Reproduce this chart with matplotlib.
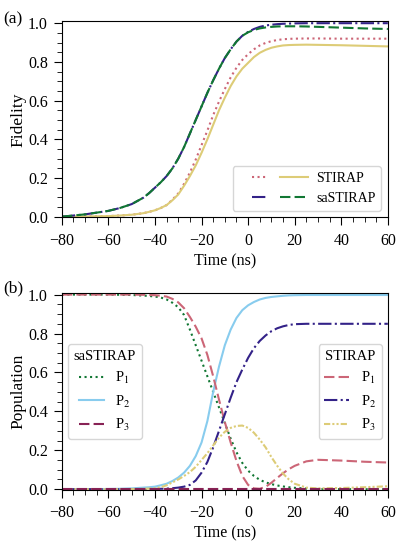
"""
Fidelity and level populations for STIRAP vs saSTIRAP.
"""
import numpy as np
import matplotlib.pyplot as plt
from matplotlib.legend_handler import HandlerLine2D
from matplotlib.ticker import AutoMinorLocator

plt.rcParams["font.family"] = ["Liberation Serif", "DejaVu Serif"]
plt.rcParams["mathtext.fontset"] = "stix"
plt.rcParams["font.size"] = 11

# time grid (ns)
t = [-80, -70, -60, -55, -50, -45, -42.5, -40, -37.5, -35, -32.5, -30, -27.5, -25,
     -22.5, -20, -17.5, -15, -12.5, -10, -7.5, -5, -2.5, 0, 2.5, 5, 7.5, 10, 12.5,
     15, 17.5, 20, 25, 30, 40, 50, 60]

# panel (a): fidelity
fid_stirap_dot = [0.0, 0.001, 0.003, 0.006, 0.01, 0.018, 0.025, 0.033, 0.045, 0.06,
                  0.088, 0.12, 0.17, 0.228, 0.295, 0.37, 0.445, 0.525, 0.595, 0.66,
                  0.72, 0.77, 0.81, 0.84, 0.865, 0.885, 0.898, 0.907, 0.913, 0.917,
                  0.919, 0.92, 0.921, 0.921, 0.92, 0.92, 0.92]
fid_stirap = [0.0, 0.001, 0.003, 0.006, 0.01, 0.018, 0.025, 0.033, 0.045, 0.06,
              0.085, 0.115, 0.16, 0.21, 0.265, 0.33, 0.4, 0.475, 0.55, 0.615,
              0.675, 0.725, 0.765, 0.795, 0.825, 0.847, 0.862, 0.873, 0.88, 0.885,
              0.887, 0.888, 0.889, 0.888, 0.886, 0.883, 0.88]
fid_sa_dashdot = [0.0, 0.012, 0.03, 0.045, 0.065, 0.098, 0.122, 0.15, 0.178, 0.21,
                  0.25, 0.3, 0.36, 0.43, 0.5, 0.57, 0.64, 0.705, 0.765, 0.82,
                  0.865, 0.905, 0.935, 0.955, 0.97, 0.981, 0.988, 0.992, 0.995, 0.997,
                  0.998, 0.999, 1.0, 1.0, 1.0, 1.0, 1.0]
fid_sa_dash = [0.0, 0.012, 0.03, 0.045, 0.065, 0.098, 0.122, 0.15, 0.178, 0.21,
               0.25, 0.3, 0.36, 0.43, 0.5, 0.57, 0.64, 0.705, 0.765, 0.82,
               0.865, 0.905, 0.935, 0.953, 0.965, 0.973, 0.978, 0.981, 0.983, 0.984,
               0.984, 0.984, 0.983, 0.981, 0.977, 0.973, 0.97]

# panel (b): populations
sa_p1 = [1.0, 1.0, 1.0, 0.999, 0.998, 0.995, 0.993, 0.99, 0.985, 0.975,
         0.958, 0.935, 0.895, 0.82, 0.74, 0.66, 0.58, 0.5, 0.42, 0.34,
         0.26, 0.19, 0.135, 0.095, 0.068, 0.048, 0.035, 0.026, 0.019, 0.014,
         0.01, 0.007, 0.003, 0.001, 0.0, 0.0, 0.0]
sa_p2 = [0.0, 0.0, 0.001, 0.002, 0.004, 0.008, 0.01, 0.013, 0.02, 0.028,
         0.042, 0.06, 0.085, 0.12, 0.17, 0.24, 0.35, 0.5, 0.63, 0.74,
         0.82, 0.88, 0.92, 0.945, 0.962, 0.975, 0.983, 0.988, 0.991, 0.994,
         0.996, 0.997, 0.998, 0.998, 0.998, 0.998, 0.998]
sa_p3 = [0.0] * 37
st_p1 = [1.0, 1.0, 1.0, 1.0, 1.0, 0.999, 0.998, 0.997, 0.994, 0.99,
         0.978, 0.96, 0.93, 0.885, 0.835, 0.775, 0.69, 0.58, 0.46, 0.345,
         0.24, 0.145, 0.068, 0.022, 0.004, 0.002, 0.012, 0.033, 0.058, 0.082,
         0.103, 0.12, 0.143, 0.151, 0.147, 0.141, 0.137]
st_p2 = [0.0, 0.0, 0.0, 0.0, 0.0, 0.0, 0.0, 0.001, 0.002, 0.003,
         0.005, 0.008, 0.013, 0.022, 0.045, 0.085, 0.14, 0.215, 0.3, 0.385,
         0.47, 0.55, 0.615, 0.675, 0.725, 0.762, 0.79, 0.812, 0.827, 0.837,
         0.844, 0.848, 0.85, 0.85, 0.85, 0.85, 0.85]
st_p3 = [0.0, 0.0, 0.0, 0.0, 0.0, 0.002, 0.003, 0.005, 0.01, 0.02,
         0.035, 0.05, 0.068, 0.088, 0.115, 0.15, 0.185, 0.225, 0.265, 0.295,
         0.315, 0.325, 0.327, 0.315, 0.29, 0.255, 0.215, 0.165, 0.12, 0.08,
         0.05, 0.028, 0.008, 0.004, 0.006, 0.01, 0.015]

rose, indigo, sand, green = "#CC6677", "#332288", "#DDCC77", "#117733"
cyan, wine = "#88CCEE", "#882255"


class ShortLine(HandlerLine2D):
    # draw the handle only over the right half of its slot
    def create_artists(self, legend, orig_handle, xdescent, ydescent, width,
                       height, fontsize, trans):
        return super().create_artists(legend, orig_handle, xdescent - 0.5 * width,
                                      ydescent, 0.5 * width, height, fontsize, trans)


fig = plt.figure(figsize=(3.99, 5.45), dpi=100)
ax1 = fig.add_axes([0.155, 0.601, 0.817, 0.360])
ax2 = fig.add_axes([0.155, 0.101, 0.817, 0.362])

lw = 1.5
h1, = ax1.plot(t, fid_stirap_dot, color=rose, ls=":", lw=lw)
h3, = ax1.plot(t, fid_stirap, color=sand, ls="-", lw=lw)
h2, = ax1.plot(t, fid_sa_dashdot, color=indigo, ls="-.", lw=lw)
h4, = ax1.plot(t, fid_sa_dash, color=green, ls=(0, (5, 2)), lw=lw)
ax1.legend([h1, h2, h3, h4], ["", "", "STIRAP", "saSTIRAP"], ncol=2,
           loc="lower right", columnspacing=0.4, handletextpad=0.6,
           fontsize=10, handler_map={h1: ShortLine(), h2: ShortLine()})
ax1.set_ylabel("Fidelity", fontsize=12.5, labelpad=1.5)

s1, = ax2.plot(t, sa_p1, color=green, ls=":", lw=lw)
s2, = ax2.plot(t, sa_p2, color=cyan, ls="-", lw=lw)
r1, = ax2.plot(t, st_p1, color=rose, ls=(0, (5, 2)), lw=lw)
r2, = ax2.plot(t, st_p2, color=indigo, ls="-.", lw=lw)
r3, = ax2.plot(t, st_p3, color=sand, ls=(0, (3, 1, 1, 1, 1, 1)), lw=lw)
s3, = ax2.plot(t, sa_p3, color=wine, ls=(0, (5, 2)), lw=lw)
leg_l = ax2.legend([s1, s2, s3], ["P$_1$", "P$_2$", "P$_3$"], title="saSTIRAP",
                   loc="center left", bbox_to_anchor=(0.0, 0.5), borderaxespad=0.4,
                   handlelength=1.7, fontsize=10.5, title_fontsize=10.5)
ax2.add_artist(leg_l)
ax2.legend([r1, r2, r3], ["P$_1$", "P$_2$", "P$_3$"], title="STIRAP",
           loc="center right", bbox_to_anchor=(1.0, 0.5), borderaxespad=0.4,
           handlelength=1.7, fontsize=10.5, title_fontsize=10.5)
ax2.set_ylabel("Population", fontsize=12.5, labelpad=1.5)

for ax in (ax1, ax2):
    ax.set_xlim(-80, 60)
    ax.set_ylim(-0.004, 1.01)
    ax.set_xticks(np.arange(-80, 61, 20))
    ax.set_yticks(np.arange(0, 1.01, 0.2))
    ax.xaxis.set_minor_locator(AutoMinorLocator(4))
    ax.yaxis.set_minor_locator(AutoMinorLocator(4))
    ax.tick_params(which="major", direction="out", length=6, pad=4, labelsize=11.5)
    ax.tick_params(which="minor", direction="out", length=3.5)
    ax.tick_params(axis="x", which="major", pad=5)
    ax.set_xlabel("Time (ns)", fontsize=11.5, labelpad=3)
    ax.yaxis.set_major_formatter(plt.FormatStrFormatter("%.1f"))

fig.text(0.008, 0.965, "(a)", fontsize=12.5, va="center")
fig.text(0.008, 0.470, "(b)", fontsize=12.5, va="center")

fig.savefig("out.png", dpi=100)
